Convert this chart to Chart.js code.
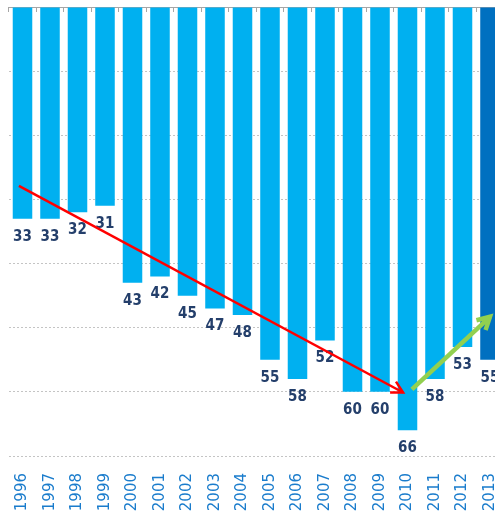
<!DOCTYPE html>
<html>
<head>
<meta charset="utf-8">
<script src="https://cdn.jsdelivr.net/npm/chart.js@4/dist/chart.umd.min.js"></script>
<style>
  html, body { margin: 0; padding: 0; background: #fff; overflow: hidden; }
  canvas { display: block; }
</style>
</head>
<body>
<canvas id="myChart" width="512" height="516"></canvas>
<script>
var years = ['1996','1997','1998','1999','2000','2001','2002','2003','2004',
             '2005','2006','2007','2008','2009','2010','2011','2012','2013'];
var values = [33, 33, 32, 31, 43, 42, 45, 47, 48, 55, 58, 52, 60, 60, 66, 58, 53, 55];
var barColors = values.map(function (v, i) {
    return i === values.length - 1 ? '#0070C0' : '#00B0F0';
});
// arrows: [category index, value]
var redArrow = [[-0.13, 27.9], [13.84, 60.1]];
var greenArrow = [[14.16, 59.6], [17.0, 48.3]];

function drawArrow(ctx, x1, y1, x2, y2, color, width, head) {
    var ang = Math.atan2(y2 - y1, x2 - x1);
    ctx.save();
    ctx.strokeStyle = color;
    ctx.lineWidth = width;
    ctx.lineCap = 'butt';
    ctx.lineJoin = 'miter';
    ctx.beginPath();
    ctx.moveTo(x1, y1);
    ctx.lineTo(x2, y2);
    ctx.stroke();
    ctx.beginPath();
    ctx.moveTo(x2 - head * Math.cos(ang - 0.5), y2 - head * Math.sin(ang - 0.5));
    ctx.lineTo(x2, y2);
    ctx.lineTo(x2 - head * Math.cos(ang + 0.5), y2 - head * Math.sin(ang + 0.5));
    ctx.stroke();
    ctx.restore();
}

var extras = {
    id: 'extras',
    afterDatasetsDraw: function (chart) {
        var ctx = chart.ctx;
        var meta = chart.getDatasetMeta(0);
        ctx.save();
        ctx.font = 'bold 15px "Liberation Sans Narrow", "DejaVu Sans Condensed", sans-serif';
        ctx.fillStyle = '#243f6b';
        ctx.textAlign = 'center';
        ctx.textBaseline = 'middle';
        meta.data.forEach(function (bar, i) {
            ctx.fillText(values[i], bar.x, bar.y + 18);
        });
        ctx.restore();

        var xs = chart.scales.x, ys = chart.scales.y;
        drawArrow(ctx,
            xs.getPixelForValue(redArrow[0][0]), ys.getPixelForValue(redArrow[0][1]),
            xs.getPixelForValue(redArrow[1][0]), ys.getPixelForValue(redArrow[1][1]),
            '#ff0000', 2.5, 13);
        drawArrow(ctx,
            xs.getPixelForValue(greenArrow[0][0]), ys.getPixelForValue(greenArrow[0][1]),
            xs.getPixelForValue(greenArrow[1][0]), ys.getPixelForValue(greenArrow[1][1]),
            '#92d050', 4.5, 14);
    }
};

function noSidePad(s) {
    s.paddingLeft = 0;
    s.paddingRight = 0;
}

new Chart(document.getElementById('myChart'), {
    type: 'bar',
    data: {
        labels: years,
        datasets: [{
            data: values,
            backgroundColor: barColors,
            borderWidth: 0,
            barPercentage: 0.71,
            categoryPercentage: 1
        }]
    },
    options: {
        responsive: false,
        animation: false,
        devicePixelRatio: 1,
        layout: { padding: { left: 8.75, right: 8.25, top: 0, bottom: 0 } },
        plugins: { legend: { display: false }, tooltip: { enabled: false } },
        scales: {
            x: {
                position: 'bottom',
                offset: true,
                grid: { display: false, offset: true },
                border: { display: false },
                ticks: {
                    minRotation: 90, maxRotation: 90,
                    padding: 9,
                    color: '#1a7ccc',
                    font: { family: 'DejaVu Sans', size: 15 }
                },
                afterFit: function (s) { s.height = 60; noSidePad(s); }
            },
            x2: {
                position: 'top',
                type: 'category',
                labels: years,
                offset: true,
                grid: { offset: true, drawOnChartArea: false, color: '#a6a6a6', tickLength: -5 },
                border: { color: '#a6a6a6', width: 1 },
                ticks: { display: false },
                afterFit: function (s) { s.height = 7; noSidePad(s); }
            },
            y: {
                reverse: true,
                min: 0, max: 70,
                ticks: { display: false, stepSize: 10 },
                grid: {
                    drawTicks: false,
                    color: function (c) { return c.tick && c.tick.value === 0 ? 'rgba(0,0,0,0)' : '#c4c4c4'; }
                },
                border: { display: false, dash: [2, 2] }
            }
        }
    },
    plugins: [extras]
});
</script>
</body>
</html>
